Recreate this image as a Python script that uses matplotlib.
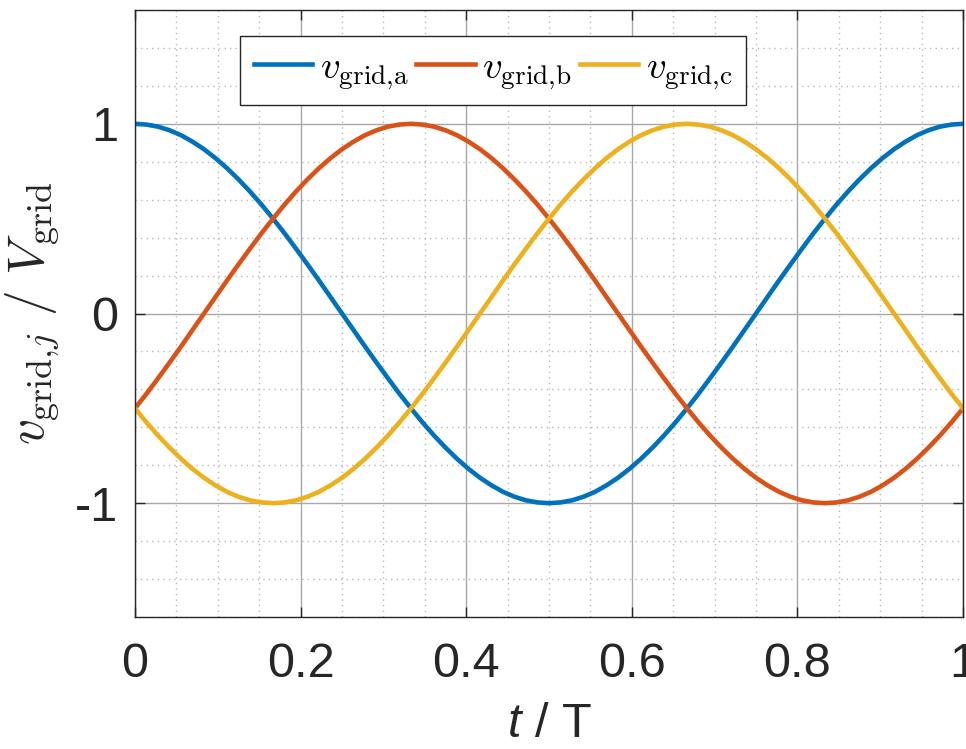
import matplotlib
matplotlib.use('Agg')
import matplotlib.pyplot as plt
from matplotlib.ticker import MultipleLocator

plt.rcParams['font.family'] = ['Liberation Sans', 'DejaVu Sans']
plt.rcParams['mathtext.fontset'] = 'cm'
plt.rcParams['mathtext.it'] = 'Liberation Sans:italic'
plt.rcParams['mathtext.rm'] = 'Liberation Sans'

# samples (t / T in steps of 1/72)
t = [0.0, 0.0139, 0.0278, 0.0417, 0.0556, 0.0694, 0.0833, 0.0972, 0.1111, 0.125,
     0.1389, 0.1528, 0.1667, 0.1806, 0.1944, 0.2083, 0.2222, 0.2361, 0.25, 0.2639,
     0.2778, 0.2917, 0.3056, 0.3194, 0.3333, 0.3472, 0.3611, 0.375, 0.3889, 0.4028,
     0.4167, 0.4306, 0.4444, 0.4583, 0.4722, 0.4861, 0.5, 0.5139, 0.5278, 0.5417,
     0.5556, 0.5694, 0.5833, 0.5972, 0.6111, 0.625, 0.6389, 0.6528, 0.6667, 0.6806,
     0.6944, 0.7083, 0.7222, 0.7361, 0.75, 0.7639, 0.7778, 0.7917, 0.8056, 0.8194,
     0.8333, 0.8472, 0.8611, 0.875, 0.8889, 0.9028, 0.9167, 0.9306, 0.9444, 0.9583,
     0.9722, 0.9861, 1.0]

v_a = [1.0, 0.996, 0.985, 0.966, 0.940, 0.906, 0.866, 0.819, 0.766, 0.707,
       0.643, 0.574, 0.5, 0.423, 0.342, 0.259, 0.174, 0.087, 0.0,
       -0.087, -0.174, -0.259, -0.342, -0.423, -0.5, -0.574, -0.643, -0.707,
       -0.766, -0.819, -0.866, -0.906, -0.940, -0.966, -0.985, -0.996, -1.0,
       -0.996, -0.985, -0.966, -0.940, -0.906, -0.866, -0.819, -0.766, -0.707,
       -0.643, -0.574, -0.5, -0.423, -0.342, -0.259, -0.174, -0.087, 0.0,
       0.087, 0.174, 0.259, 0.342, 0.423, 0.5, 0.574, 0.643, 0.707,
       0.766, 0.819, 0.866, 0.906, 0.940, 0.966, 0.985, 0.996, 1.0]

v_b = [-0.5, -0.423, -0.342, -0.259, -0.174, -0.087, 0.0, 0.087, 0.174, 0.259,
       0.342, 0.423, 0.5, 0.574, 0.643, 0.707, 0.766, 0.819, 0.866, 0.906,
       0.940, 0.966, 0.985, 0.996, 1.0,
       0.996, 0.985, 0.966, 0.940, 0.906, 0.866, 0.819, 0.766, 0.707, 0.643,
       0.574, 0.5, 0.423, 0.342, 0.259, 0.174, 0.087, 0.0, -0.087, -0.174,
       -0.259, -0.342, -0.423, -0.5, -0.574, -0.643, -0.707, -0.766, -0.819, -0.866,
       -0.906, -0.940, -0.966, -0.985, -0.996, -1.0,
       -0.996, -0.985, -0.966, -0.940, -0.906, -0.866, -0.819, -0.766, -0.707, -0.643,
       -0.574, -0.5]

v_c = [-0.5, -0.574, -0.643, -0.707, -0.766, -0.819, -0.866, -0.906, -0.940, -0.966,
       -0.985, -0.996, -1.0,
       -0.996, -0.985, -0.966, -0.940, -0.906, -0.866, -0.819, -0.766, -0.707, -0.643,
       -0.574, -0.5, -0.423, -0.342, -0.259, -0.174, -0.087, 0.0, 0.087, 0.174,
       0.259, 0.342, 0.423, 0.5, 0.574, 0.643, 0.707, 0.766, 0.819, 0.866,
       0.906, 0.940, 0.966, 0.985, 0.996, 1.0,
       0.996, 0.985, 0.966, 0.940, 0.906, 0.866, 0.819, 0.766, 0.707, 0.643,
       0.574, 0.5, 0.423, 0.342, 0.259, 0.174, 0.087, 0.0, -0.087, -0.174,
       -0.259, -0.342, -0.423, -0.5]

labels = [r'$v_{\mathrm{grid{,}a}}$', r'$v_{\mathrm{grid{,}b}}$', r'$v_{\mathrm{grid{,}c}}$']
colors = ['#0072BD', '#D95319', '#EDB120']

x_ticks = [0, 0.2, 0.4, 0.6, 0.8, 1]
x_ticklabels = ['0', '0.2', '0.4', '0.6', '0.8', '1']
y_ticks = [-1, 0, 1]
y_ticklabels = ['-1', '0', '1']

fig = plt.figure(figsize=(9.66, 7.49), dpi=100)
ax = fig.add_axes([135 / 966, 1 - 617 / 749, 828 / 966, 607 / 749])

for y, lab, col in zip([v_a, v_b, v_c], labels, colors):
    ax.plot(t, y, color=col, lw=3.3, label=lab)

ax.set_xlim(0, 1)
ax.set_ylim(-1.6, 1.6)
ax.set_xticks(x_ticks)
ax.set_xticklabels(x_ticklabels)
ax.set_yticks(y_ticks)
ax.set_yticklabels(y_ticklabels)
ax.xaxis.set_minor_locator(MultipleLocator(0.05))
ax.yaxis.set_minor_locator(MultipleLocator(0.2))

ax.grid(True, which='major', color='#a8a8a8', lw=1.0, ls='-')
ax.grid(True, which='minor', color='#b8b8b8', lw=1.0, ls=(0, (1, 3)))
ax.set_axisbelow(True)

ax.tick_params(which='major', direction='in', length=7, width=1, color='#262626',
               labelsize=35, labelcolor='#262626', top=True, right=True, pad=12)
ax.tick_params(which='minor', length=0)
ax.tick_params(axis='x', pad=18)
for s in ax.spines.values():
    s.set_color('#262626')
    s.set_linewidth(1.0)

ax.set_xlabel(r'$t$ / T', fontsize=35, color='#262626', math_fontfamily='custom')
ax.xaxis.set_label_coords(0.5, -0.14)
ax.set_ylabel(r'$v_{\mathrm{grid{,}}j}\ /\ V_{\mathrm{grid}}$', fontsize=37, color='#262626')
ax.yaxis.set_label_coords(-0.088, 0.5)

leg = ax.legend(loc='upper left', bbox_to_anchor=(0.127, 0.957), ncol=3,
                fontsize=28, frameon=True, fancybox=False, framealpha=1,
                edgecolor='#262626', handlelength=1.5, handletextpad=0.2,
                columnspacing=0.2, borderpad=0.35, borderaxespad=0)
leg.get_frame().set_linewidth(1.0)

fig.savefig('out.png', dpi=100)
